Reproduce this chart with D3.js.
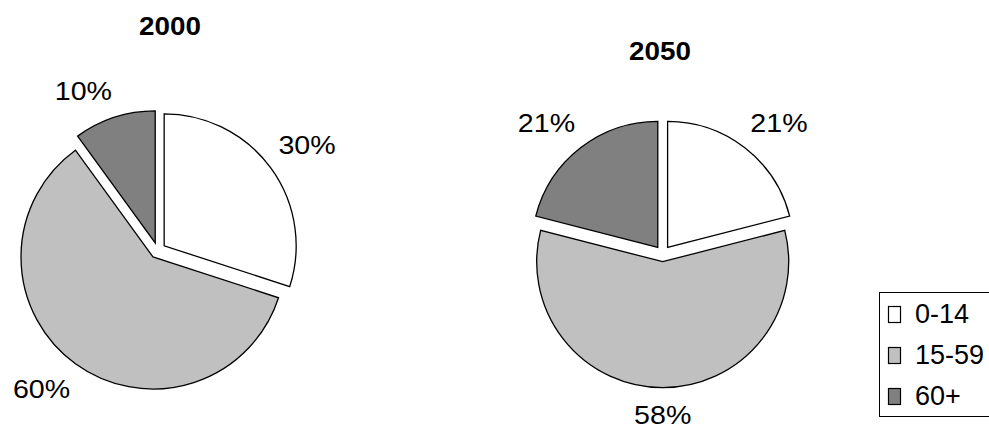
<!DOCTYPE html>
<html>
<head>
<meta charset="utf-8">
<script src="https://cdn.jsdelivr.net/npm/d3@7"></script>
<style>
  html, body { margin: 0; padding: 0; background: #fff; }
  svg { display: block; font-family: "Liberation Sans", Arial, Helvetica, sans-serif; }
</style>
</head>
<body>
<svg id="chart" width="989" height="428"></svg>
<script>
// ---- data ----
const categories = ["0-14", "15-59", "60+"];
const years = ["2000", "2050"];
const values2000 = [30, 60, 10];
const values2050 = [21, 58, 21];
const labels2000 = ["30%", "60%", "10%"];
const labels2050 = ["21%", "58%", "21%"];
const colors = ["#ffffff", "#c0c0c0", "#808080"];

// ---- layout ----
const svg = d3.select("#chart");
const pies = [
  { year: years[0], values: values2000, labels: labels2000, cx: 157.7, cy: 250.5, r: 132, titleX: 170, titleY: 35 },
  { year: years[1], values: values2050, labels: labels2050, cx: 662.7, cy: 253.7, r: 126, titleX: 660, titleY: 60 }
];
const explode = 8;
const color = d3.scaleOrdinal().domain(categories).range(colors);
const clamp = v => Math.max(-1, Math.min(1, v));

pies.forEach(p => {
  const g = svg.append("g").attr("transform", `translate(${p.cx},${p.cy})`);
  const pie = d3.pie().sort(null).value(d => d.v);
  const arcs = pie(p.values.map((v, i) => ({ v, cat: categories[i], label: p.labels[i] })));
  const arc = d3.arc().innerRadius(0).outerRadius(p.r);

  arcs.forEach(a => {
    const mid = (a.startAngle + a.endAngle) / 2;
    const s = Math.sin(mid), c = -Math.cos(mid);
    const sg = g.append("g").attr("transform", `translate(${s * explode},${c * explode})`);
    sg.append("path")
      .attr("d", arc(a))
      .attr("fill", color(a.data.cat))
      .attr("stroke", "#000")
      .attr("stroke-width", 1.3)
      .attr("stroke-linejoin", "miter");

    // label outside end
    const t = sg.append("text")
      .attr("font-size", 26)
      .attr("text-anchor", "middle")
      .attr("dominant-baseline", "central")
      .attr("fill", "#000")
      .text(a.data.label);
    const hw = 28, hh = 17;
    const d = p.r + 10;
    const x = s * d + hw * clamp(s / 0.2);
    const y = c * d + hh * clamp(c / 0.2);
    t.attr("transform", `translate(${x},${y}) scale(1.1,1)`);
  });

  svg.append("text")
    .attr("transform", `translate(${p.titleX},${p.titleY}) scale(1.07,1)`)
    .attr("text-anchor", "middle")
    .attr("font-size", 26)
    .attr("font-weight", "bold")
    .text(p.year);
});

// ---- legend ----
const lg = svg.append("g");
lg.append("rect")
  .attr("x", 879.5).attr("y", 292.5)
  .attr("width", 130).attr("height", 124)
  .attr("fill", "none").attr("stroke", "#000").attr("stroke-width", 1);
const ly = d3.scalePoint().domain(categories).range([323, 405]);
categories.forEach(cat => {
  const y = ly(cat);
  lg.append("rect")
    .attr("x", 888.5).attr("y", y - 16.5)
    .attr("width", 12).attr("height", 16)
    .attr("fill", color(cat)).attr("stroke", "#000").attr("stroke-width", 1.2);
  lg.append("text")
    .attr("x", 915).attr("y", y)
    .attr("font-size", 27)
    .text(cat);
});
</script>
</body>
</html>
